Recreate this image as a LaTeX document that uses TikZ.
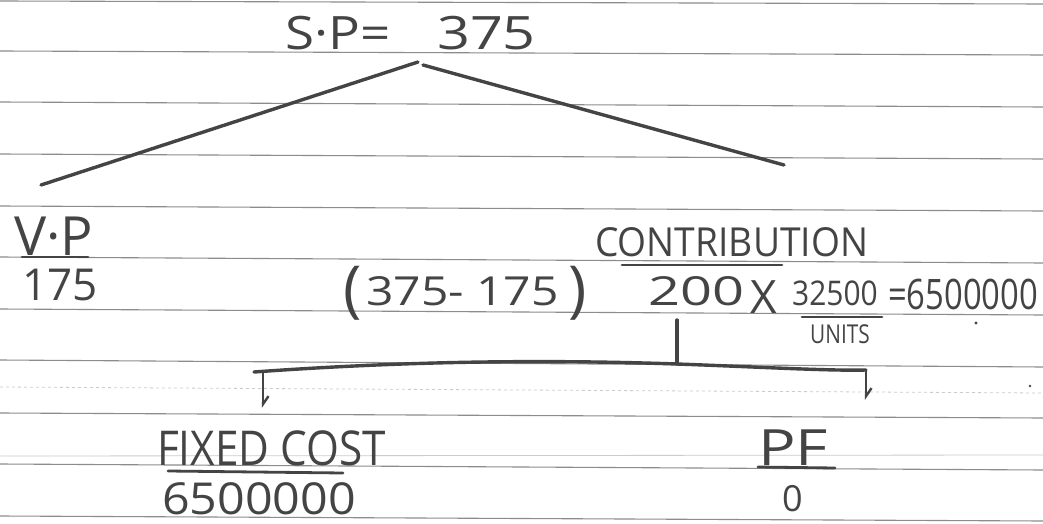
\documentclass[tikz,border=0pt]{standalone}
\usepackage{fontspec}
\setmainfont{Open Sans}
\usetikzlibrary{arrows.meta}
\definecolor{ink}{HTML}{444444}
\definecolor{rule}{HTML}{8C8C8C}
\newcommand\widen[2]{\scalebox{#1}[1]{#2}}
\tikzset{
  hand/.style={text=ink, inner sep=0pt, anchor=base west},
  pen/.style={draw=ink, line width=3.4pt, line cap=round, line join=round},
  ruling/.style={draw=rule, line width=1.1pt},
  faint/.style={draw=rule!45, line width=0.8pt},
  uline/.style={draw=ink, line width=2.8pt, line cap=round},
  drop/.style={pen, line width=2.8pt, -{Straight Barb[left, length=8pt, width=11pt, line width=2.4pt]}}
}
\begin{document}
\begin{tikzpicture}[x=1pt, y=-1pt]
\useasboundingbox (0,0) rectangle (1043,524);
\fill[white] (0,0) rectangle (1043,524);

% ruled notebook paper
\foreach \a/\b in {1/4, 51/55, 102/107, 154/159, 206/211, 257/263, 309/315,
                   360/367, 413/418, 464/470, 516/521}
  \draw[ruling] (0,\a) -- (1043,\b);
\draw[faint, dashed] (0,387) -- (1043,393);
\draw[faint] (0,456) -- (1043,455);

% selling price and its split
\node[hand, font=\fontsize{46}{46}\selectfont] (sp) at (285,50) {\widen{1.15}{S·P=}};
\node[hand, font=\fontsize{46}{46}\selectfont] (spv) at (437,50) {\widen{1.25}{375}};
\coordinate (apexL) at (418,62);
\coordinate (apexR) at (423,65);
\coordinate (endL) at (41,185);
\coordinate (endR) at (784,165);
\draw[pen] (apexL) -- (endL);
\draw[pen] (apexR) -- (endR);

% variable price
\node[hand, font=\fontsize{54}{54}\selectfont] (vp) at (14,255) {V·P};
\draw[uline] (22,257) -- (88,257);
\node[hand, font=\fontsize{44}{44}\selectfont] (vpv) at (22,300) {175};

% contribution
\node[hand, font=\fontsize{40}{40}\selectfont] (contr) at (595,256) {\widen{0.93}{CONTRIBUTION}};
\draw[uline] (622,265) -- (782,265);
\node[hand, font=\fontsize{62}{62}\selectfont] (lp) at (343,310) {(};
\node[hand, font=\fontsize{40}{40}\selectfont] (diff) at (366,305) {\widen{1.2}{375- 175}};
\node[hand, font=\fontsize{62}{62}\selectfont] (rp) at (568,310) {)};
\node[hand, font=\fontsize{40}{40}\selectfont] (unit) at (648,305) {\widen{1.4}{200}};
\node[hand, font=\fontsize{46}{46}\selectfont] (times) at (750,313) {X};
\node[hand, font=\fontsize{34}{34}\selectfont] (qty) at (792,305) {\widen{0.88}{32500}};
\draw[uline] (802,317) -- (882,317);
\node[hand, font=\fontsize{26}{26}\selectfont] (units) at (810,343) {\widen{0.8}{UNITS}};
\node[hand, font=\fontsize{42}{42}\selectfont] (total) at (888,309) {\widen{0.78}{=6500000}};
\fill[ink] (976,323) circle (1.6pt);
\fill[ink] (1030,386) circle (1.4pt);

% split of the contribution
\coordinate (stem) at (677,320);
\coordinate (joint) at (677,364);
\coordinate (brL) at (254,372);
\coordinate (brR) at (866,370);
\coordinate (tipL) at (263,408);
\coordinate (tipR) at (866,400);
\draw[pen] (stem) -- (joint);
\draw[pen] (brL) .. controls (420,360) and (560,360) .. (joint)
           .. controls (760,367) and (830,371) .. (brR);
\draw[drop] (brL -| tipL) -- (tipL);
\draw[drop] (brR) -- (tipR);

% fixed cost and profit
\node[hand, font=\fontsize{48}{48}\selectfont] (fc) at (157,465) {\widen{0.88}{FIXED COST}};
\draw[uline] (168,471) -- (343,473);
\node[hand, font=\fontsize{44}{44}\selectfont] (fcv) at (162,514) {\widen{1.1}{6500000}};
\node[hand, font=\fontsize{50}{50}\selectfont] (pf) at (758,465) {\widen{1.25}{PF}};
\draw[uline] (758,467) -- (835,468);
\node[hand, font=\fontsize{36}{36}\selectfont] (pfv) at (782,511) {0};
\end{tikzpicture}
\end{document}
